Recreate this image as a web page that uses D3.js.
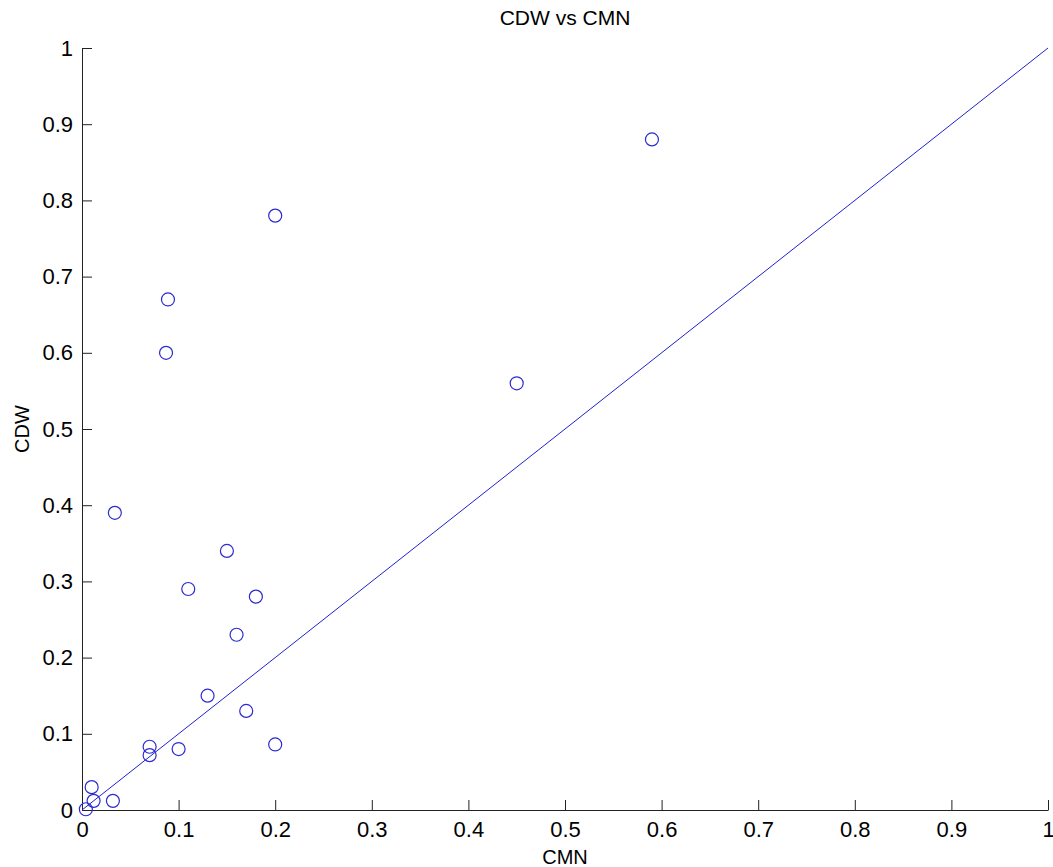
<!DOCTYPE html>
<html>
<head>
<meta charset="utf-8">
<script src="https://cdn.jsdelivr.net/npm/d3@7"></script>
<style>
  body { margin: 0; background: #fff; }
  text { font-family: "Liberation Sans", Arial, sans-serif; fill: #000; }
</style>
</head>
<body>
<div id="chart"></div>
<script>
// CMN (x) and CDW (y) values
var cmn = [0.59, 0.45, 0.2, 0.089, 0.087, 0.034, 0.15, 0.11, 0.18, 0.16,
           0.13, 0.17, 0.2, 0.07, 0.07, 0.1, 0.01, 0.012, 0.032, 0.004];
var cdw = [0.88, 0.56, 0.78, 0.67, 0.60, 0.39, 0.34, 0.29, 0.28, 0.23,
           0.15, 0.13, 0.086, 0.083, 0.072, 0.08, 0.03, 0.012, 0.012, 0.001];
// reference line y = x
var refLine = [[0, 0], [1, 1]];
var ticks = [0, 0.1, 0.2, 0.3, 0.4, 0.5, 0.6, 0.7, 0.8, 0.9, 1];

var w = 1053, h = 867;
var margin = {top: 48, right: 5, bottom: 57, left: 82};

var svg = d3.select("#chart").append("svg")
    .attr("width", w)
    .attr("height", h);

var x = d3.scaleLinear().domain([0, 1]).range([margin.left, w - margin.right]);
var y = d3.scaleLinear().domain([0, 1]).range([h - margin.bottom, margin.top]);

var fmt = function (d) { return d3.format("")(+d.toFixed(1)); };

// axes, ticks pointing inward like matlab
svg.append("g")
    .attr("transform", "translate(0," + y(0) + ")")
    .call(d3.axisBottom(x).tickValues(ticks).tickFormat(fmt)
        .tickSizeInner(-10).tickSizeOuter(0).tickPadding(11));

svg.append("g")
    .attr("transform", "translate(" + x(0) + ",0)")
    .call(d3.axisLeft(y).tickValues(ticks).tickFormat(fmt)
        .tickSizeInner(-10).tickSizeOuter(0).tickPadding(9));

svg.selectAll(".domain, .tick line").attr("stroke", "#222");
svg.selectAll(".tick text")
    .attr("font-size", 22)
    .attr("font-family", "Liberation Sans, Arial, sans-serif")
    .attr("fill", "#000");

// y = x line
svg.append("path")
    .datum(refLine)
    .attr("fill", "none")
    .attr("stroke", "#2020d0")
    .attr("stroke-width", 1)
    .attr("d", d3.line().x(function (d) { return x(d[0]); }).y(function (d) { return y(d[1]); }));

// scatter markers
svg.selectAll("circle.pt")
    .data(d3.range(cmn.length))
    .enter()
    .append("circle")
    .attr("class", "pt")
    .attr("cx", function (i) { return x(cmn[i]); })
    .attr("cy", function (i) { return y(cdw[i]); })
    .attr("r", 6.5)
    .attr("fill", "none")
    .attr("stroke", "#2b2bd0")
    .attr("stroke-width", 1.2);

// title and axis labels
svg.append("text")
    .attr("x", (x(0) + x(1)) / 2)
    .attr("y", 25)
    .attr("text-anchor", "middle")
    .attr("font-size", 21)
    .text("CDW vs CMN");

svg.append("text")
    .attr("x", (x(0) + x(1)) / 2)
    .attr("y", 864)
    .attr("text-anchor", "middle")
    .attr("font-size", 20)
    .text("CMN");

svg.append("text")
    .attr("transform", "translate(29," + (y(0) + y(1)) / 2 + ") rotate(-90)")
    .attr("text-anchor", "middle")
    .attr("font-size", 20)
    .text("CDW");
</script>
</body>
</html>
